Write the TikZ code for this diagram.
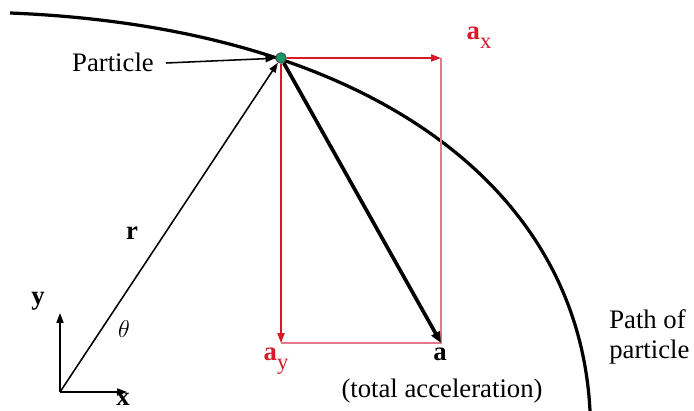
\documentclass[tikz,border=0pt]{standalone}
\usepackage{fontspec}
\setmainfont{Liberation Serif}
\usetikzlibrary{arrows.meta}
\definecolor{accred}{RGB}{215, 25, 40}
\definecolor{boxpink}{RGB}{228, 120, 140}
\definecolor{dotgreen}{RGB}{25, 150, 100}
\newcommand{\subvec}[2]{\textbf{#1}\raisebox{-0.35em}{\fontsize{16}{16}\selectfont #2}}

\begin{document}
\begin{tikzpicture}[
  x=0.025cm, y=-0.025cm,
  txt/.style={font=\fontsize{19}{21.3}\selectfont, inner sep=0pt},
  vec/.style={txt, font=\fontsize{19}{21.3}\selectfont\bfseries},
  pathline/.style={line width=2.3pt},
  rline/.style={line width=1.1pt, -{Triangle[length=7pt, width=5pt]}},
  axis/.style={line width=1.1pt, -{Triangle[length=7pt, width=5pt]}},
  redarrow/.style={accred, line width=1.2pt, -{Triangle[length=7pt, width=5pt]}},
  boxline/.style={boxpink, line width=0.9pt},
  accel/.style={line width=2.6pt, -{Triangle[length=8pt, width=6.5pt]}},
]
  \useasboundingbox (0,0) rectangle (694,411);

  % Path of the particle
  \draw[pathline] (10,13) .. controls (360,27) and (578.5,181) .. (590,411);

  % Points
  \coordinate (O) at (60,392);
  \coordinate (yend) at (60,313);
  \coordinate (xend) at (127,392);
  \coordinate (axend) at (441,58);
  \coordinate (ayend) at (281,343);
  \coordinate (aend) at (441,343);

  % Components box
  \draw[boxline] (axend) -- (aend) -- (ayend);

  % Particle
  \node[circle, fill=dotgreen, draw=black!75, line width=0.6pt,
        minimum size=7.5pt, inner sep=0pt] (ptc) at (281,58) {};

  % Vectors
  \draw[rline] (O) -- (ptc);
  \draw[axis] (O) -- (yend);
  \draw[axis] (O) -- (xend);
  \draw[redarrow] (ptc) -- (axend);
  \draw[redarrow] (ptc) -- (ayend);
  \draw[accel] (ptc) -- (aend);

  % Labels
  \node[txt] (plabel) at (113,62) {Particle};
  \draw[rline] (plabel.east) ++(12,1) coordinate (pstart) -- (ptc);
  \node[vec] (rlabel) at (132,233) {r};
  \node[txt] (thlabel) at (124,329) {$\theta$};
  \node[vec] (ylabel) at (38,301) {y};
  \node[vec] (xlabel) at (123,399) {x};
  \node[txt, accred] (axlabel) at (479,38) {\subvec{a}{x}};
  \node[txt, accred] (aylabel) at (276,361) {\subvec{a}{y}};
  \node[vec] (alabel) at (440,354) {a};
  \node[txt] (acclabel) at (442,391) {(total acceleration)};
  \node[txt, align=left, anchor=west] (pathlabel) at (609,337) {Path of\\particle};

\end{tikzpicture}
\end{document}
